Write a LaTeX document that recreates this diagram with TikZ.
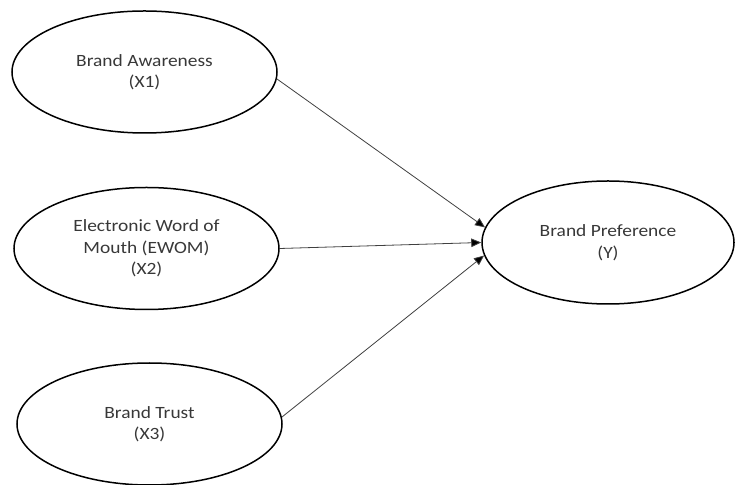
\documentclass[tikz,border=0pt]{standalone}
\usepackage{fontspec}
\setmainfont{Carlito}[FakeStretch=1.13]
\usetikzlibrary{arrows.meta,shapes.geometric}
\begin{document}
\begin{tikzpicture}[x=1pt,y=1pt,
  latent/.style={draw=black, line width=1.5pt, ellipse, inner sep=0pt,
    minimum width=265pt, minimum height=122pt, align=center,
    text=black!78, font=\fontsize{17.2}{21.5}\selectfont},
  path/.style={draw=black!75, line width=0.8pt,
    -{Triangle[length=10pt,width=8.5pt,fill=black]}}]
\useasboundingbox (0,0) rectangle (735,484);
\node[latent] (X1) at (144.5,412) {Brand Awareness\\(X1)};
\node[latent] (X2) at (146.5,235.5) {Electronic Word of\\Mouth (EWOM)\\(X2)};
\node[latent] (X3) at (149.5,60) {Brand Trust\\(X3)};
\node[latent, minimum width=252pt, minimum height=123pt] (Y) at (608,241.5) {Brand Preference\\(Y)};
\draw[path] (X1.-3) -- (Y.173.4);
\draw[path] (X2.east) -- (Y.west);
\draw[path] (X3.3) -- (Y.186.4);
\end{tikzpicture}
\end{document}
